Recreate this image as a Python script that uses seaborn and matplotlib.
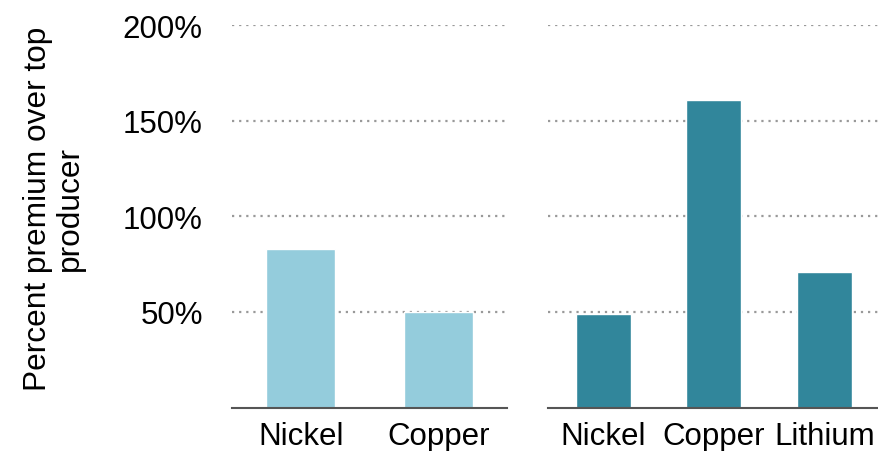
import matplotlib
matplotlib.use("Agg")
import matplotlib.pyplot as plt
import seaborn as sns
import pandas as pd

# values (percent premium over top producer)
left_metals = ["Nickel", "Copper"]
left_premium = [83, 50]
right_metals = ["Nickel", "Copper", "Lithium"]
right_premium = [49, 161, 71]
y_ticks = [50, 100, 150, 200]

light_blue = "#94CCDC"
teal = "#31869B"

sns.set_style("white")
plt.rcParams['font.family'] = ['Liberation Sans', 'DejaVu Sans']
plt.rcParams['text.color'] = 'black'
plt.rcParams['xtick.color'] = 'black'
plt.rcParams['ytick.color'] = 'black'
plt.rcParams['axes.labelcolor'] = 'black'

fig = plt.figure(figsize=(8.79, 4.52), dpi=100)
ax1 = fig.add_axes([232 / 879, 1 - 408.5 / 452, 275 / 879, (408.5 - 26) / 452])
ax2 = fig.add_axes([548 / 879, 1 - 408.5 / 452, 331.5 / 879, (408.5 - 26) / 452])

left_df = pd.DataFrame({"metal": left_metals, "premium": left_premium})
right_df = pd.DataFrame({"metal": right_metals, "premium": right_premium})

sns.barplot(data=left_df, x="metal", y="premium", color=light_blue,
            width=0.5, saturation=1, ax=ax1)
sns.barplot(data=right_df, x="metal", y="premium", color=teal,
            width=0.5, saturation=1, ax=ax2)

for ax in (ax1, ax2):
    ax.set_ylim(0, 200)
    ax.set_yticks(y_ticks)
    ax.yaxis.grid(True, color="#999999", linewidth=1.6, linestyle=(0, (1, 2.2)))
    ax.set_axisbelow(True)
    for side in ("top", "right", "left"):
        ax.spines[side].set_visible(False)
    ax.spines["bottom"].set_color("#555555")
    ax.spines["bottom"].set_linewidth(1.5)
    ax.set_xlabel("")
    ax.set_ylabel("")
    ax.tick_params(axis="x", length=0, pad=10, labelsize=22.5)
    ax.tick_params(axis="y", length=0, pad=21, labelsize=22.5)

ax1.set_yticklabels([f"{t}%" for t in y_ticks])
ax2.set_yticklabels([])
ax1.set_ylabel("Percent premium over top\nproducer", fontsize=22.8,
               linespacing=1.1)
ax1.yaxis.set_label_coords(-0.5345, 0.5216)

fig.savefig("out.png", dpi=100)
